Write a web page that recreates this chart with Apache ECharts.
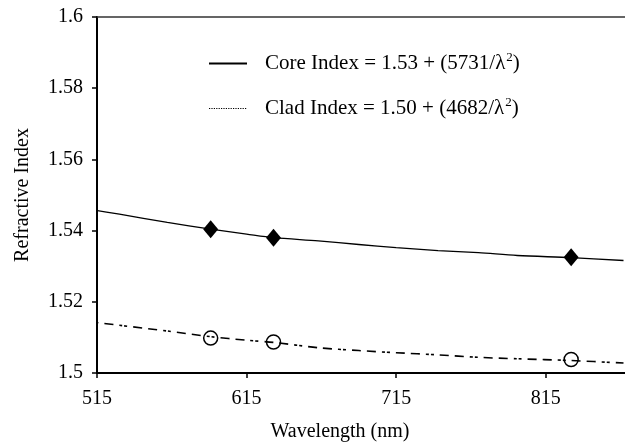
<!DOCTYPE html>
<html>
<head>
<meta charset="utf-8">
<script src="https://cdn.jsdelivr.net/npm/echarts@6/dist/echarts.min.js"></script>
<style>
  html, body { margin: 0; padding: 0; background: #fff; }
  #chart { width: 625px; height: 447px; }
</style>
</head>
<body>
<div id="chart"></div>
<script>
// values
const wavelength = [510, 530, 562, 591, 615, 633, 663, 690, 715, 743, 770, 796, 832, 867]
const coreIndex = [1.546, 1.5446, 1.5423, 1.5404, 1.539, 1.538, 1.5371, 1.5361, 1.5352, 1.5344, 1.5338, 1.533, 1.5324, 1.5316]
const cladIndex = [1.5144, 1.5134, 1.5118, 1.5102, 1.5092, 1.5086, 1.5071, 1.5063, 1.5057, 1.5051, 1.5044, 1.504, 1.5035, 1.5028]

const markerWavelength = [591, 633, 832]
const coreMarkers = [1.5404, 1.538, 1.5325]
const cladMarkers = [1.5098, 1.5087, 1.5038]

const xTicks = [515, 615, 715, 815]

const font = "'Liberation Serif', 'Times New Roman', serif"

const legendText = {
  Core: 'Core Index = 1.53 + (5731/λ{sup|2})',
  Clad: 'Clad Index = 1.50 + (4682/λ{sup|2})'
}

function pairs(xs, ys) {
  return xs.map((x, i) => [x, ys[i]])
}

const chart = echarts.init(document.getElementById('chart'))

chart.setOption({
  animation: false,
  textStyle: { fontFamily: font, color: '#000' },
  grid: {
    left: 97,
    right: 0,
    top: 17,
    bottom: 74
  },
  legend: {
    orient: 'vertical',
    left: 203,
    top: 46,
    itemWidth: 38,
    itemHeight: 14,
    itemGap: 22,
    selectedMode: false,
    itemStyle: { opacity: 0 },
    data: [
      { name: 'Core' },
      { name: 'Clad', lineStyle: { type: 'dotted', width: 1.2 } }
    ],
    formatter: name => legendText[name],
    textStyle: {
      fontFamily: font,
      fontSize: 21,
      color: '#000',
      padding: [0, 0, 0, 13],
      rich: {
        sup: { fontFamily: font, fontSize: 13, color: '#000', padding: [0, 0, 12, 1] }
      }
    }
  },
  xAxis: [{
    type: 'value',
    min: 515,
    max: 868,
    name: 'Wavelength (nm)',
    nameLocation: 'middle',
    nameGap: 49,
    nameTextStyle: { fontFamily: font, fontSize: 20, color: '#000', padding: [0, 42, 0, 0] },
    axisLine: { show: true, lineStyle: { color: '#000', width: 2 } },
    axisTick: { show: true, inside: false, length: 5, customValues: xTicks, lineStyle: { color: '#000', width: 1.5 } },
    axisLabel: { customValues: xTicks, margin: 16, fontFamily: font, fontSize: 20, color: '#000' },
    splitLine: { show: false }
  }, {
    type: 'value',
    position: 'top',
    min: 515,
    max: 868,
    axisLine: { show: true, lineStyle: { color: '#333', width: 1.5 } },
    axisTick: { show: false },
    axisLabel: { show: false },
    splitLine: { show: false }
  }],
  yAxis: {
    type: 'value',
    min: 1.5,
    max: 1.6,
    interval: 0.02,
    name: 'Refractive Index',
    nameLocation: 'middle',
    nameGap: 64,
    nameTextStyle: { fontFamily: font, fontSize: 20, color: '#000' },
    axisLine: { show: true, lineStyle: { color: '#000', width: 2 } },
    axisTick: { show: true, inside: false, length: 5, lineStyle: { color: '#000', width: 1.5 } },
    axisLabel: { margin: 14, fontFamily: font, fontSize: 20, color: '#000' },
    splitLine: { show: false }
  },
  series: [{
    name: 'Core',
    type: 'line',
    symbol: 'none',
    smooth: 0.3,
    clip: false,
    lineStyle: { color: '#000', width: 1.3 },
    data: pairs(wavelength, coreIndex)
  }, {
    name: 'Clad',
    type: 'line',
    symbol: 'none',
    smooth: 0.3,
    clip: false,
    lineStyle: { color: '#000', width: 1.6, type: [9, 6, 9, 6, 3, 2, 3, 6] },
    data: pairs(wavelength, cladIndex)
  }, {
    name: 'Core points',
    type: 'scatter',
    symbol: 'diamond',
    symbolSize: [15, 18],
    itemStyle: { color: '#000', opacity: 1 },
    z: 5,
    data: pairs(markerWavelength, coreMarkers)
  }, {
    name: 'Clad points',
    type: 'scatter',
    symbol: 'circle',
    symbolSize: 14,
    itemStyle: { color: 'rgba(0,0,0,0)', borderColor: '#000', borderWidth: 1.5, opacity: 1 },
    z: 5,
    data: pairs(markerWavelength, cladMarkers)
  }]
})
</script>
</body>
</html>
